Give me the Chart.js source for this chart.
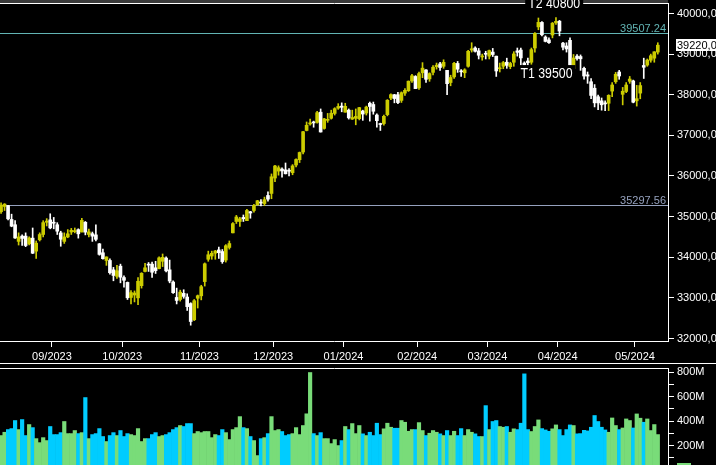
<!DOCTYPE html>
<html>
<head>
<meta charset="utf-8">
<script src="https://cdn.jsdelivr.net/npm/chart.js@4.4.1/dist/chart.umd.min.js"></script>
<style>
  html, body { margin: 0; padding: 0; background: #000; overflow: hidden; width: 716px; height: 465px; }
  #priceChart { position: absolute; left: 0; top: 0; }
  #volChart { position: absolute; left: 0; top: 363px; }
</style>
</head>
<body>
<canvas id="priceChart" width="716" height="363"></canvas>
<canvas id="volChart" width="716" height="107"></canvas>
<script>
// daily candles, 11/08/2023 .. 09/05/2024 (one row per month)
const open = [
  35120,35250,35270,34930,34800,34390,34520,34520,34330,34470,34150,34430,34560,34860,34920,
  34860,34800,34600,34390,34500,34620,34630,34680,34620,34860,34560,34580,34550,34330,34110,33920,33920,33690,33530,33780,
  33500,33380,33010,33070,33000,33300,33650,33830,33830,33740,33720,33900,33980,33690,33390,33010,32960,33110,33020,32860,32460,32990,
  33050,33400,33950,34030,34100,34180,34140,33930,34240,34600,34880,34880,34980,34900,35120,35150,35290,35350,35320,35520,35570,
  35950,36120,36170,36150,36130,36080,36270,36400,36590,37120,37280,37330,37320,37570,37170,37370,37420,37540,37670,37720,
  37570,37620,37400,37420,37410,37600,37550,37790,37760,37500,37290,37290,37510,37920,38000,38000,37860,38040,38100,38340,38450,
  38170,38540,38610,38390,38550,38690,38760,38700,38600,38300,38440,38770,38580,38540,38700,39100,39150,39080,38930,39020,
  38950,39050,38950,38640,38700,38800,38690,38800,39080,39100,38780,38830,38800,39150,39670,39780,39420,39350,39470,39770,
  39810,39270,39200,39340,38640,38950,38940,38650,38490,38320,38160,37950,37850,37800,37790,38090,38320,38560,38010,38080,38330,38340,
  37850,38040,38720,38730,38850,38900,39050
];
const high = [
  35340,35320,35280,35060,34900,34600,34550,34600,34500,34720,34400,34600,34900,34950,35070,
  34980,34850,34640,34600,34680,34710,34720,34700,34960,34880,34690,34620,34800,34340,34200,34010,33960,33750,33800,33830,
  33540,33390,33180,33170,33500,33620,33850,33870,33880,33900,34010,34080,34010,33930,33420,33240,33190,33200,33100,32880,32960,33070,
  33310,33860,34150,34150,34170,34250,34190,34310,34400,34850,35030,34980,35040,35180,35130,35300,35400,35420,35480,35610,36050,
  36260,36250,36200,36320,36180,36280,36420,36590,37100,37330,37400,37350,37590,37650,37420,37540,37620,37680,37780,37800,
  37790,37650,37620,37650,37690,37620,37720,37820,37820,37530,37300,37500,37880,38020,38010,38060,38070,38150,38340,38500,38470,
  38560,38790,38620,38540,38720,38780,38800,38860,38600,38480,38800,38820,38620,38640,39090,39280,39180,39140,39000,39070,
  39100,39140,38950,38780,38820,38900,38800,39060,39150,39150,38810,38900,39150,39530,39889,39800,39450,39400,39780,39900,
  39830,39290,39280,39400,38990,38990,38980,38680,38560,38400,38250,37990,37920,37850,38000,38300,38550,38600,38180,38300,38450,38360,
  38230,38300,38900,38880,39000,39060,39280
];
const low = [
  35080,35150,34920,34750,34460,34300,34290,34260,34300,34090,33970,34400,34500,34770,34700,
  34700,34560,34270,34340,34480,34560,34600,34470,34620,34550,34500,34390,34400,34050,33950,33800,33580,33420,33480,33370,
  33260,32960,32850,32900,32830,33240,33640,33650,33500,33600,33710,33770,33640,33370,33110,32850,32920,32990,32690,32327,32440,32750,
  32950,33290,33900,33950,33950,33970,33850,33880,34200,34600,34830,34760,34880,34900,34960,35110,35280,35260,35270,35380,35440,
  35860,36020,35970,36050,36000,36030,36220,36330,36540,37110,37250,37200,37300,37080,37150,37320,37400,37500,37640,37580,
  37570,37400,37390,37260,37380,37370,37500,37350,37520,37200,37120,37250,37480,37880,37800,37780,37810,37980,38080,38300,38150,
  38130,38420,38300,38330,38490,38630,38600,38650,38000,38220,38400,38550,38450,38420,38680,39050,39050,38880,38850,38880,
  38880,38940,38450,38560,38640,38650,38640,38700,38950,38700,38650,38700,38750,39050,39600,39450,39300,39260,39400,39730,
  39450,39100,39050,38590,38600,38850,38600,38380,38280,37900,37700,37630,37620,37610,37610,37950,38280,38380,37750,38050,38280,37800,
  37720,37900,38400,38700,38800,38800,39000
];
const close = [
  35281,35307,34946,34765,34474,34500,34463,34288,34472,34099,34346,34559,34852,34890,34722,
  34837,34641,34443,34500,34577,34663,34646,34576,34907,34618,34624,34518,34441,34070,33964,34007,33619,33551,33667,33508,
  33433,33002,33129,33120,33408,33605,33740,33805,33631,33670,33985,33998,33665,33415,33127,32936,33141,33036,32784,32418,32929,33053,
  33275,33839,34061,34096,34153,34112,33892,34283,34337,34828,34991,34945,34947,35151,35088,35273,35390,35334,35417,35430,35980,
  36246,36204,36125,36054,36117,36248,36405,36578,37090,37248,37306,37306,37558,37083,37405,37386,37545,37657,37711,37690,
  37715,37431,37440,37466,37683,37525,37696,37711,37593,37361,37267,37469,37864,38002,37906,37807,38050,38109,38333,38467,38150,
  38520,38654,38380,38521,38677,38726,38671,38797,38273,38424,38773,38628,38564,38612,39069,39131,39069,38972,38949,38996,
  39087,38990,38585,38661,38791,38723,38770,39005,39043,38906,38715,38790,39110,39512,39781,39476,39313,39282,39760,39807,
  39567,39170,39127,38640,38904,38892,38884,38461,38459,37983,37800,37799,37753,37775,37986,38240,38504,38461,38086,38240,38386,37816,
  37903,38226,38676,38852,38960,39056,39220
];
// volume in millions
const volume = [
  282,309,331,339,405,331,413,282,372,347,257,224,265,241,356,
  290,290,306,397,298,298,323,298,306,593,257,290,298,339,274,233,282,306,282,323,
  274,298,290,282,339,233,257,257,290,306,274,282,290,306,331,347,364,356,380,380,298,315,
  306,315,315,265,290,282,331,306,249,331,347,437,347,339,274,241,118,257,265,298,437,
  323,331,315,282,290,298,347,290,364,460,798,298,282,306,257,257,216,249,200,241,
  356,331,380,298,364,296,282,309,282,383,290,337,383,350,342,342,405,391,317,331,331,
  388,323,282,301,323,309,296,282,323,282,317,282,339,282,331,309,296,274,274,527,
  331,397,405,356,350,356,309,337,331,383,787,331,315,356,410,339,328,317,337,369,
  331,282,331,369,364,296,298,325,320,350,446,397,350,328,309,426,364,331,344,418,405,344,
  459,424,391,418,323,372,290
];

const monthStart = [15, 35, 57, 78, 98, 119, 139, 159, 181];
const monthLabels = ['09/2023', '10/2023', '11/2023', '12/2023', '01/2024', '02/2024', '03/2024', '04/2024', '05/2024'];
const priceTicks = [32000, 33000, 34000, 35000, 36000, 37000, 38000, 39000, 40000];
const volTicks = [100, 200, 300, 400, 500, 600, 700, 800];
const levels = [39507.24, 35297.56];
const targetLabels = ['T1 39500', 'T2 40800'];

// layout / style
const X_MIN = -0.3, X_MAX = 189.9;
const Y_MIN = 31938, Y_MAX = 40258;
const VOL_MAX = 835;
const AXIS_W = 48;
const UP = '#cccc00', DOWN = '#ffffff';
const VOL_UP = '#79dc79', VOL_DOWN = '#00ccff';
const LEVEL_COLORS = ['#62b4b4', '#95a1bd'];
const targetAnchors = [[147.9, 38410], [150.1, 40135]];
const FONT = '"Liberation Sans", Arial, sans-serif';

Chart.defaults.font.family = FONT;
Chart.defaults.font.size = 11;
Chart.defaults.color = '#fff';

const isUp = open.map((o, i) => close[i] >= o);
const candleColors = isUp.map(u => u ? UP : DOWN);

function noPad(s) {
  s.paddingTop = 0; s.paddingBottom = 0; s.paddingLeft = 0; s.paddingRight = 0;
}

function xScale(showLabels) {
  return {
    type: 'linear', min: X_MIN, max: X_MAX, bounds: 'data', offset: false,
    display: showLabels,
    afterBuildTicks: s => { s.ticks = monthStart.map(i => ({ value: i - 0.5 })); },
    ticks: { color: '#fff', padding: 3, maxRotation: 0, autoSkip: false,
             callback: (v, idx) => monthLabels[idx] },
    grid: { drawOnChartArea: false, color: '#fff', tickLength: 6, offset: false },
    border: { color: '#fff' },
    afterFit: s => { noPad(s); if (showLabels) s.height = 22; }
  };
}

function yScale(min, max, tickVals, fmt) {
  return {
    position: 'right', min: min, max: max, bounds: 'data',
    afterBuildTicks: s => { s.ticks = tickVals.map(v => ({ value: v })); },
    ticks: { color: '#fff', padding: 3, autoSkip: false, callback: fmt },
    grid: { drawOnChartArea: false, color: '#fff', tickLength: 6 },
    border: { color: '#fff' },
    afterFit: s => { noPad(s); s.width = AXIS_W; }
  };
}

const priceOverlay = {
  id: 'priceOverlay',
  beforeDatasetsDraw(chart) {
    const { ctx, chartArea: a, scales: { y } } = chart;
    ctx.save();
    ctx.font = '11px ' + FONT;
    ctx.textAlign = 'right';
    ctx.textBaseline = 'alphabetic';
    levels.forEach((v, k) => {
      const py = Math.round(y.getPixelForValue(v)) + 0.5;
      ctx.strokeStyle = LEVEL_COLORS[k];
      ctx.lineWidth = 1;
      ctx.beginPath(); ctx.moveTo(a.left, py); ctx.lineTo(a.right, py); ctx.stroke();
      ctx.fillStyle = LEVEL_COLORS[k];
      ctx.fillText(v.toFixed(2), a.right - 2, py - 2);
    });
    ctx.restore();
  },
  afterDraw(chart) {
    const { ctx, chartArea: a, scales: { x, y } } = chart;
    ctx.save();
    // top band + frame line
    ctx.fillStyle = '#3a3a3a';
    ctx.fillRect(0, 0, a.right, 3);
    ctx.strokeStyle = '#fff';
    ctx.lineWidth = 1;
    ctx.beginPath(); ctx.moveTo(0, a.top + 0.5); ctx.lineTo(a.right + 1, a.top + 0.5); ctx.stroke();

    // target labels (narrow text)
    ctx.font = '15px ' + FONT;
    ctx.textAlign = 'left';
    ctx.textBaseline = 'alphabetic';
    targetLabels.forEach((t, k) => {
      const px = x.getPixelForValue(targetAnchors[k][0]);
      const py = y.getPixelForValue(targetAnchors[k][1]);
      const w = ctx.measureText(t).width * 0.82;
      ctx.fillStyle = '#000';
      ctx.fillRect(px - 3, py - 13, w + 6, 16);
      ctx.save();
      ctx.translate(px, py);
      ctx.scale(0.82, 1);
      ctx.fillStyle = '#fff';
      ctx.fillText(t, 0, 0);
      ctx.restore();
    });

    // last price box
    const last = close[close.length - 1];
    const py = Math.round(y.getPixelForValue(last));
    ctx.fillStyle = '#fff';
    ctx.fillRect(a.right + 8, py - 6, 60, 12);
    ctx.fillStyle = '#000';
    ctx.font = '11px ' + FONT;
    ctx.textBaseline = 'middle';
    ctx.fillText(last.toFixed(1).replace('.', ','), a.right + 9, py + 0.5);
    ctx.restore();
  }
};

new Chart(document.getElementById('priceChart'), {
  type: 'bar',
  data: {
    datasets: [
      { // bodies
        data: open.map((o, i) => ({ x: i, y: [o, close[i]] })),
        backgroundColor: candleColors,
        barThickness: 3, grouped: false, minBarLength: 1
      },
      { // wicks
        data: low.map((l, i) => ({ x: i, y: [l, high[i]] })),
        backgroundColor: candleColors,
        barThickness: 1, grouped: false
      }
    ]
  },
  options: {
    responsive: false,
    animation: false,
    layout: { padding: { top: 3, left: 0, right: 0, bottom: 0 } },
    plugins: { legend: { display: false }, tooltip: { enabled: false } },
    scales: {
      x: xScale(true),
      y: yScale(Y_MIN, Y_MAX, priceTicks, v => v.toFixed(1).replace('.', ','))
    }
  },
  plugins: [priceOverlay]
});

const volOverlay = {
  id: 'volOverlay',
  afterDraw(chart) {
    const { ctx, chartArea: a } = chart;
    ctx.save();
    ctx.strokeStyle = '#fff';
    ctx.lineWidth = 1;
    ctx.beginPath(); ctx.moveTo(0, 0.5); ctx.lineTo(chart.width, 0.5); ctx.stroke();
    ctx.beginPath(); ctx.moveTo(0, a.top + 0.5); ctx.lineTo(a.right + 1, a.top + 0.5); ctx.stroke();
    ctx.fillStyle = VOL_UP;
    ctx.fillRect(a.right + 9, a.bottom - 7, 14, 12);
    ctx.restore();
  }
};

new Chart(document.getElementById('volChart'), {
  type: 'bar',
  data: {
    datasets: [{
      data: volume.map((v, i) => ({ x: i, y: v })),
      backgroundColor: isUp.map(u => u ? VOL_UP : VOL_DOWN),
      barPercentage: 1, categoryPercentage: 1, grouped: false
    }]
  },
  options: {
    responsive: false,
    animation: false,
    layout: { padding: { top: 5, left: 0, right: 0, bottom: 0 } },
    plugins: { legend: { display: false }, tooltip: { enabled: false } },
    scales: {
      x: xScale(false),
      y: yScale(0, VOL_MAX, volTicks, v => (v % 200 === 0 ? v + 'M' : ''))
    }
  },
  plugins: [volOverlay]
});
</script>
</body>
</html>
